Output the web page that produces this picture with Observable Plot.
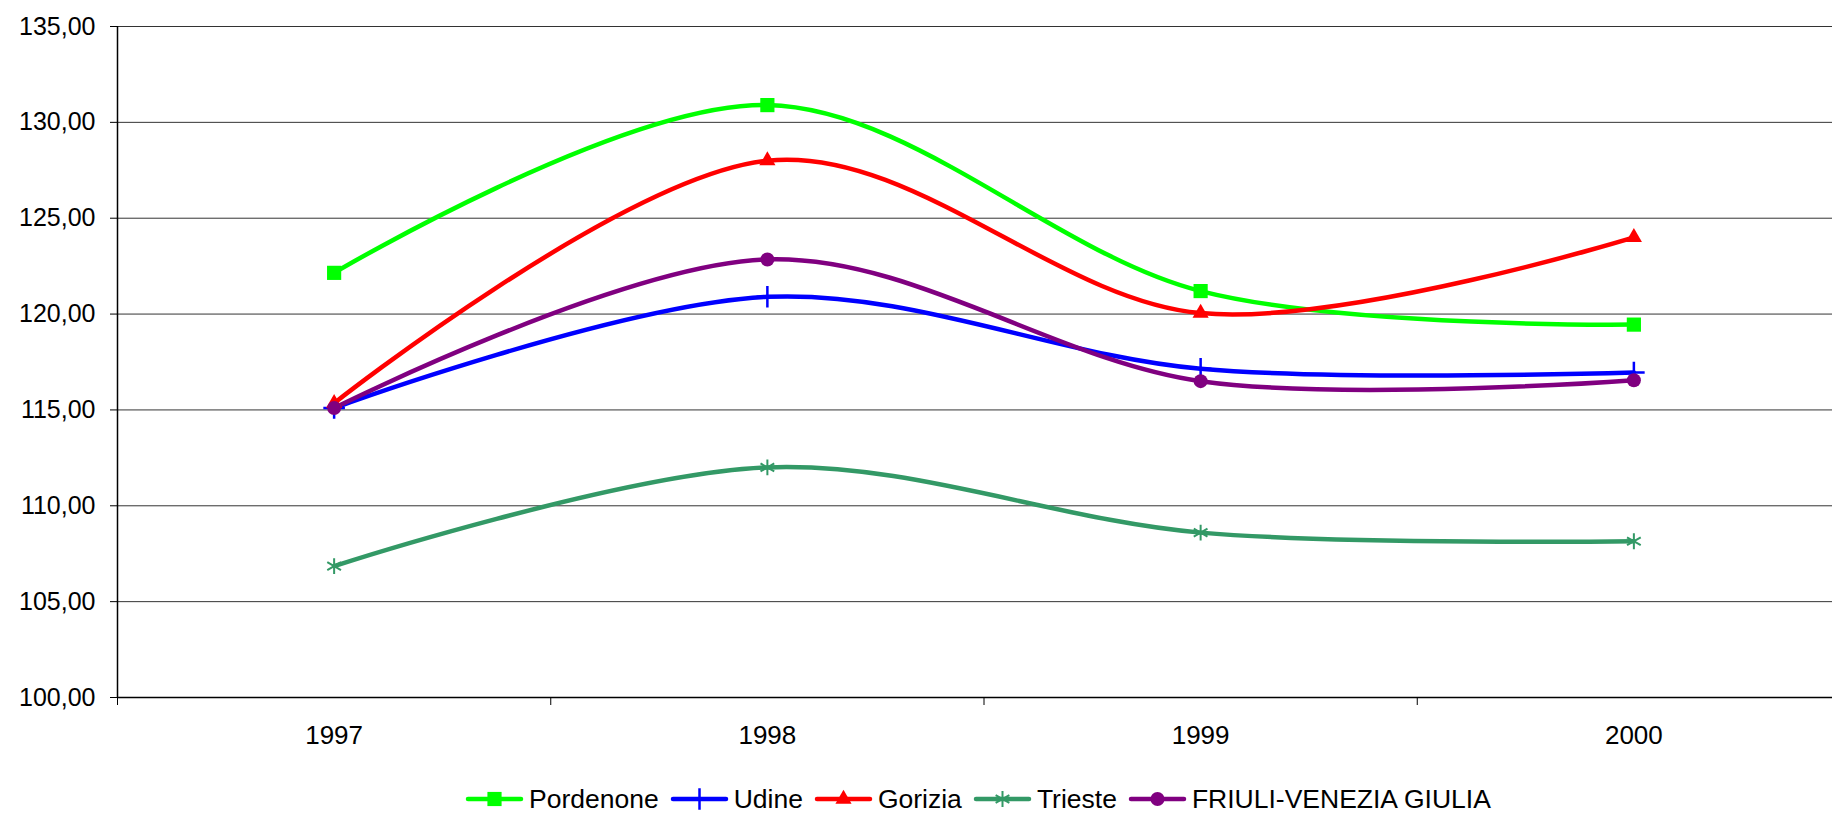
<!DOCTYPE html>
<html>
<head>
<meta charset="utf-8">
<script src="https://cdn.jsdelivr.net/npm/d3@7"></script>
<script src="https://cdn.jsdelivr.net/npm/@observablehq/plot@0.6"></script>
<style>
  body { margin: 0; background: #fff; font-family: "Liberation Sans", Arial, sans-serif; }
  #chart { position: relative; width: 1832px; height: 813px; overflow: hidden; background: #fff; }
  #legend { position: absolute; left: 466px; top: 784px; height: 30px; display: flex; align-items: center;
            font-size: 26.5px; color: #000; white-space: nowrap; font-family: "Liberation Sans", Arial, sans-serif; }
  .item { display: flex; align-items: center; margin-right: 12px; }
  .item svg { margin-right: 6px; overflow: visible; }
</style>
</head>
<body>
<div id="chart"></div>
<script>
const years = [1997, 1998, 1999, 2000];
const seriesNames = ["Pordenone", "Udine", "Gorizia", "Trieste", "FRIULI-VENEZIA GIULIA"];
const pordenone = [122.15, 130.9, 121.2, 119.45];
const udine = [115.1, 120.9, 117.15, 116.95];
const gorizia = [115.35, 128.0, 120.05, 124.0];
const trieste = [106.85, 112.0, 108.6, 108.15];
const fvg = [115.1, 122.85, 116.5, 116.55];
const yTicks = [100, 105, 110, 115, 120, 125, 130, 135];
const seriesColors = ["#00ff00", "#0000ff", "#ff0000", "#339966", "#800080"];
const seriesSymbols = ["square", "plus", "triangle", "asterisk", "circle"];

const seriesValues = [pordenone, udine, gorizia, trieste, fvg];
const symbolStyle = {
  square:   {r: 8,   filled: true},
  plus:     {r: 7,   filled: false, sw: 2.5},
  triangle: {r: 6,   filled: true},
  asterisk: {r: 7.5, filled: false, sw: 2},
  circle:   {r: 7,   filled: true}
};
const fmt = d => d.toFixed(2).replace(".", ",");

const marks = [
  Plot.ruleY(yTicks.slice(1), {stroke: "#000", strokeWidth: 1, strokeOpacity: 0.8}),
  Plot.ruleX([1996.5], {stroke: "#000", strokeWidth: 1.5}),
  Plot.ruleY([100], {stroke: "#000", strokeWidth: 1.5}),
  Plot.axisY({ticks: yTicks, tickSize: 7, tickPadding: 15, tickFormat: fmt, fontSize: 25, label: null}),
  Plot.axisX({ticks: years, tickSize: 0, tickPadding: 28, tickFormat: d => String(d), fontSize: 26, label: null}),
  Plot.axisX({ticks: [1996.5, 1997.5, 1998.5, 1999.5], tickSize: 8, tickFormat: () => "", label: null})
];

seriesValues.forEach((vals, s) => {
  marks.push(Plot.line(years, {
    x: d => d, y: (d, i) => vals[i],
    stroke: seriesColors[s], strokeWidth: 4.5, curve: "cardinal"
  }));
});
seriesValues.forEach((vals, s) => {
  const sym = seriesSymbols[s], st = symbolStyle[sym];
  marks.push(Plot.dot(years, {
    x: d => d, y: (d, i) => vals[i], symbol: sym, r: st.r,
    fill: st.filled ? seriesColors[s] : "none",
    stroke: st.filled ? "none" : seriesColors[s],
    strokeWidth: st.sw || 1
  }));
});

const chart = Plot.plot({
  width: 1832, height: 775,
  marginLeft: 117, marginRight: 0, marginTop: 26, marginBottom: 78,
  x: {type: "linear", domain: [1996.5, 2000.5], range: [117, 1850], label: null},
  y: {domain: [100, 135], range: [697, 26], label: null},
  style: {fontFamily: "Liberation Sans, Arial, sans-serif", color: "#000", background: "#fff"},
  marks
});
document.getElementById("chart").appendChild(chart);

// Legend
const legend = document.createElement("div");
legend.id = "legend";
seriesNames.forEach((name, s) => {
  const item = document.createElement("div");
  item.className = "item";
  const sym = seriesSymbols[s], st = symbolStyle[sym];
  const svg = d3.create("svg").attr("width", 57).attr("height", 30);
  svg.append("line").attr("x1", 2).attr("x2", 55).attr("y1", 15).attr("y2", 15)
    .attr("stroke", seriesColors[s]).attr("stroke-width", 4.5).attr("stroke-linecap", "round");
  const symType = {square: d3.symbolSquare, plus: d3.symbolPlus, triangle: d3.symbolTriangle,
                   asterisk: d3.symbolAsterisk, circle: d3.symbolCircle}[sym];
  svg.append("path").attr("transform", "translate(28.5,15)")
    .attr("d", d3.symbol(symType, Math.PI * st.r * st.r)())
    .attr("fill", st.filled ? seriesColors[s] : "none")
    .attr("stroke", st.filled ? "none" : seriesColors[s])
    .attr("stroke-width", st.sw || 1);
  item.appendChild(svg.node());
  const label = document.createElement("span");
  label.textContent = name;
  item.appendChild(label);
  legend.appendChild(item);
});
document.getElementById("chart").appendChild(legend);
</script>
</body>
</html>
